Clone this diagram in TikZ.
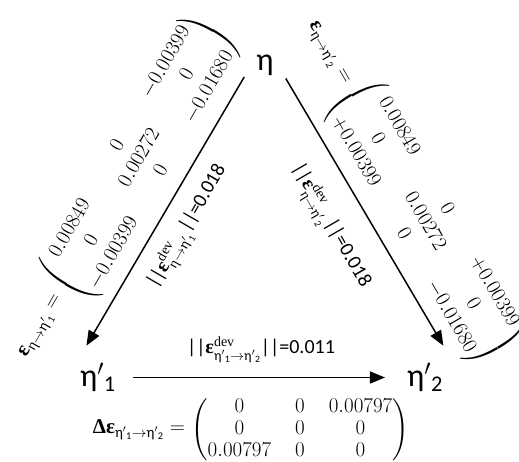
\RequirePackage{fix-cm}
\documentclass[tikz,border=0pt]{standalone}
\usepackage{amsmath}
\usepackage{fontspec}
\setmainfont{Liberation Serif}
\setsansfont{Carlito}
\usetikzlibrary{arrows.meta}
\setlength{\arraycolsep}{12pt}
\newcommand{\etaup}{\textsf{η}}
\newcommand{\epsb}{\textbf{ε}}
\newcommand{\etap}[1]{\textsf{η}$'$\textsubscript{\textsf{#1}}}

\begin{document}
\begin{tikzpicture}[
    x=1pt, y=1pt,
    state/.style={font=\fontsize{32}{36}\sffamily, inner xsep=12pt, inner ysep=17pt},
    tensor/.style={font=\fontsize{21}{25}\selectfont, inner sep=0pt},
    norm/.style={font=\fontsize{20}{24}\selectfont, inner sep=0pt},
    arr/.style={-{Triangle[length=15pt,width=12pt]}, line width=1.5pt}
]
\useasboundingbox (0,0) rectangle (519,461);

\node[state] (eta) at (265,395.5) {η};
\node[state] (etaA) at (98,83.5) {\etap{1}};
\node[state] (etaB) at (425,83.5) {\etap{2}};

\draw[arr] (eta.209) -- (etaA.110);
\draw[arr] (eta.328) -- (etaB.60);
\draw[arr, shorten <=5pt, shorten >=10pt] (etaA.east) -- (etaB.west);

% strain tensors along the edges
\node[tensor, rotate=60] (mA) at (140,303) {$\begin{pmatrix} 0.00849 & 0 & -0.00399\\ 0 & 0.00272 & 0\\ -0.00399 & 0 & -0.01680 \end{pmatrix}$};
\node[tensor, rotate=60, anchor=east] (lA) at (mA.west) {$\epsb_{\text{η}\to\text{\etap{1}}}={}$};
\node[tensor, rotate=-60] (mB) at (425,239) {$\begin{pmatrix} 0.00849 & 0 & +0.00399\\ 0 & 0.00272 & 0\\ +0.00399 & 0 & -0.01680 \end{pmatrix}$};
\node[tensor, rotate=-60, anchor=east] (lB) at (mB.west) {$\epsb_{\text{η}\to\text{\etap{2}}}={}$};
\node[tensor, font=\fontsize{21}{22}\selectfont] (mC) at (300,31) {$\begin{pmatrix} 0 & 0 & 0.00797\\ 0 & 0 & 0\\ 0.00797 & 0 & 0 \end{pmatrix}$};
\node[tensor, anchor=east] (lC) at (mC.west) {$\textbf{Δ}\epsb_{\text{\etap{1}}\to\text{\etap{2}}}={}$};

% deviatoric norms
\node[norm, rotate=60] (nA) at (188,234) {\textsf{||}$\epsb^{\mathrm{dev}}_{\text{η}\to\text{\etap{1}}}$\textsf{||=0.018}};
\node[norm, rotate=-60] (nB) at (330,235) {\textsf{||}$\epsb^{\mathrm{dev}}_{\text{η}\to\text{\etap{2}}}$\textsf{||=0.018}};
\node[norm] (nC) at (261,111) {\textsf{||}$\epsb^{\mathrm{dev}}_{\text{\etap{1}}\to\text{\etap{2}}}$\textsf{||=0.011}};
\end{tikzpicture}
\end{document}
